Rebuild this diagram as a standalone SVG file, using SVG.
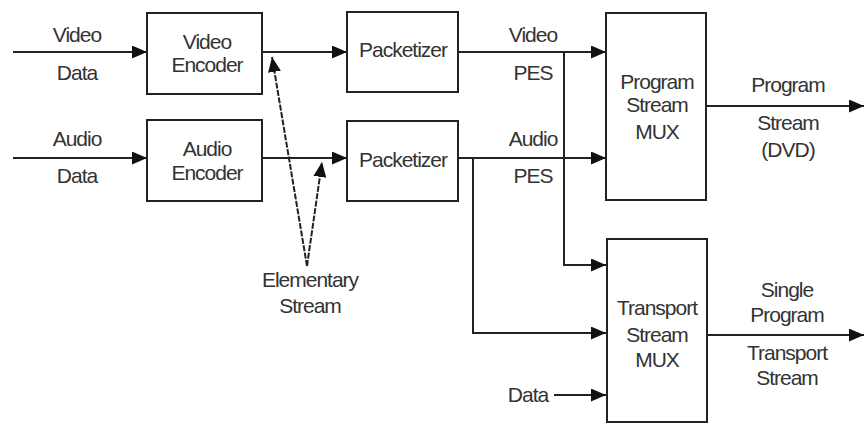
<svg xmlns="http://www.w3.org/2000/svg" width="864" height="425" viewBox="0 0 864 425">
<defs>
<marker id="arr" viewBox="0 0 15 13" refX="15" refY="6.5" markerWidth="15" markerHeight="13" markerUnits="userSpaceOnUse" orient="auto">
<path d="M0,0 L15,6.5 L0,13 Z" fill="#111"/>
</marker>
</defs>
<style>
.box{fill:#fff;stroke:#222;stroke-width:2}
.ln{fill:none;stroke:#222;stroke-width:2}
.dash{fill:none;stroke:#222;stroke-width:2;stroke-dasharray:6 1.5}
text{font-family:"Liberation Sans",Arial,sans-serif;font-size:21px;fill:#333;text-anchor:middle;letter-spacing:-1px}
</style>
<rect width="864" height="425" fill="#fff"/>
<g id="connectors">
<line class="ln" x1="13" y1="52" x2="147" y2="52" marker-end="url(#arr)"/>
<line class="ln" x1="13" y1="158" x2="147" y2="158" marker-end="url(#arr)"/>
<line class="ln" x1="262" y1="52" x2="347" y2="52" marker-end="url(#arr)"/>
<line class="ln" x1="262" y1="158" x2="347" y2="158" marker-end="url(#arr)"/>
<line class="ln" x1="458" y1="52" x2="606" y2="52" marker-end="url(#arr)"/>
<line class="ln" x1="458" y1="158" x2="606" y2="158" marker-end="url(#arr)"/>
<polyline class="ln" points="564,52 564,265 606,265" marker-end="url(#arr)"/>
<polyline class="ln" points="473,158 473,333 606,333" marker-end="url(#arr)"/>
<line class="ln" x1="554" y1="395" x2="606" y2="395" marker-end="url(#arr)"/>
<line class="ln" x1="706" y1="106" x2="864" y2="106" marker-end="url(#arr)"/>
<line class="ln" x1="707" y1="335" x2="864" y2="335" marker-end="url(#arr)"/>
<line class="dash" x1="307" y1="266" x2="272" y2="57" marker-end="url(#arr)"/>
<line class="dash" x1="307" y1="266" x2="322" y2="162" marker-end="url(#arr)"/>
</g>
<g id="video-encoder"><rect class="box" x="147" y="13" width="115" height="81"/><text x="207" y="49">Video</text><text x="207" y="72">Encoder</text></g>
<g id="audio-encoder"><rect class="box" x="147" y="120" width="115" height="81"/><text x="207" y="156">Audio</text><text x="207" y="180">Encoder</text></g>
<g id="video-packetizer"><rect class="box" x="347" y="12" width="111" height="80"/><text x="403" y="57">Packetizer</text></g>
<g id="audio-packetizer"><rect class="box" x="347" y="121" width="111" height="80"/><text x="403" y="167">Packetizer</text></g>
<g id="program-stream-mux"><rect class="box" x="606" y="13" width="100" height="187"/><text x="657" y="89">Program</text><text x="657" y="112">Stream</text><text x="657" y="139">MUX</text></g>
<g id="transport-stream-mux"><rect class="box" x="607" y="239" width="100" height="183"/><text x="657" y="315">Transport</text><text x="657" y="342">Stream</text><text x="657" y="367">MUX</text></g>
<g id="labels">
<text x="77" y="42">Video</text><text x="77" y="80">Data</text>
<text x="77" y="146">Audio</text><text x="77" y="183">Data</text>
<text x="533" y="42">Video</text><text x="533" y="80">PES</text>
<text x="533" y="146">Audio</text><text x="533" y="183">PES</text>
<text x="788" y="92">Program</text><text x="788" y="130">Stream</text><text x="788" y="157">(DVD)</text>
<text x="787" y="297">Single</text><text x="787" y="322">Program</text><text x="787" y="360">Transport</text><text x="787" y="385">Stream</text>
<text x="310" y="287">Elementary</text><text x="310" y="313">Stream</text>
<text x="528" y="402">Data</text>
</g>
</svg>
